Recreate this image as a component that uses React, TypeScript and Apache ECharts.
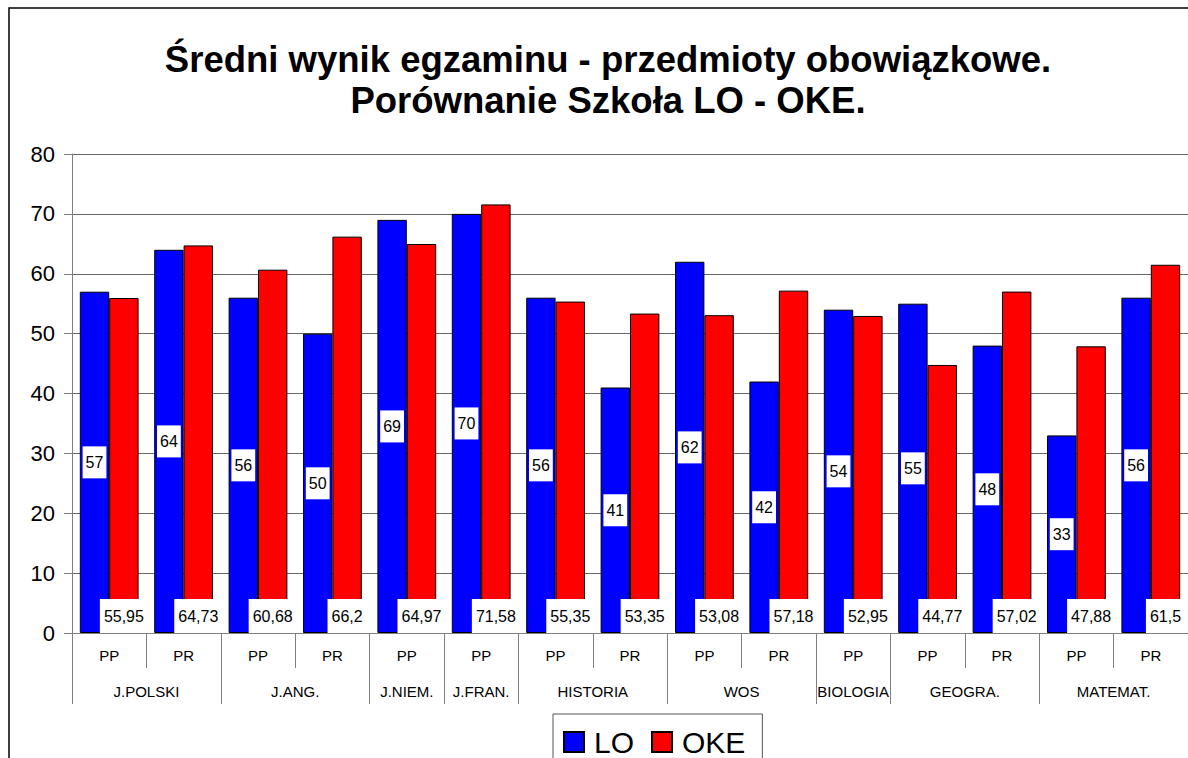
import React, { useEffect, useRef } from "react";
import * as echarts from "echarts";

const subCategories = ["PP", "PR", "PP", "PR", "PP", "PP", "PP", "PR", "PP", "PR", "PP", "PP", "PR", "PP", "PR"];
const groupNames = ["J.POLSKI", "J.ANG.", "J.NIEM.", "J.FRAN.", "HISTORIA", "WOS", "BIOLOGIA", "GEOGRA.", "MATEMAT."];
const groupSizes = [2, 2, 1, 1, 2, 2, 1, 2, 2];
const loValues = [57, 64, 56, 50, 69, 70, 56, 41, 62, 42, 54, 55, 48, 33, 56];
const okeValues = [55.95, 64.73, 60.68, 66.2, 64.97, 71.58, 55.35, 53.35, 53.08, 57.18, 52.95, 44.77, 57.02, 47.88, 61.5];
const yTicks = { min: 0, max: 80, interval: 10 };

const FONT = "'Liberation Sans', Arial, sans-serif";

function buildGroupAxis() {
  const n = subCategories.length * 2 + 1;
  const labels: string[] = new Array(n).fill("");
  const boundaries = new Set<number>([0]);
  let start = 0;
  groupNames.forEach((name, i) => {
    const size = groupSizes[i];
    labels[2 * start + size] = name;
    start += size;
    boundaries.add(2 * start);
  });
  return { labels, boundaries };
}

export default function App() {
  const ref = useRef<HTMLDivElement>(null);
  useEffect(() => {
    if (!ref.current) return;
    const chart = echarts.init(ref.current, undefined, { renderer: "svg" });
    const { labels, boundaries } = buildGroupAxis();
    const fmt = (v: number) => String(v).replace(".", ",");
    chart.setOption({
      animation: false,
      backgroundColor: "#fff",
      textStyle: { fontFamily: FONT },
      title: {
        text: "Średni wynik egzaminu - przedmioty obowiązkowe.\nPorównanie Szkoła LO - OKE.",
        left: 608,
        textAlign: "center",
        top: 39,
        padding: 0,
        textStyle: { fontSize: 36.5, fontWeight: "bold", lineHeight: 41, color: "#000", fontFamily: FONT },
      },
      graphic: [
        {
          type: "rect",
          silent: true,
          z: -10,
          shape: { x: 9, y: 8, width: 1400, height: 1000 },
          style: { fill: "none", stroke: "#000", lineWidth: 1.5 },
        },
      ],
      legend: {
        data: ["LO", "OKE"],
        icon: "rect",
        left: 553,
        top: 714,
        padding: [13, 17, 13, 10],
        itemWidth: 20,
        itemHeight: 20,
        itemGap: 17,
        borderColor: "#555",
        borderWidth: 1,
        backgroundColor: "#fff",
        textStyle: { fontSize: 30, color: "#000", fontFamily: FONT, padding: [0, 0, 0, 5] },
      },
      grid: { left: 72, top: 154, width: 1117, bottom: 125, containLabel: false },
      xAxis: [
        {
          type: "category",
          data: subCategories,
          position: "bottom",
          axisLine: { show: true, lineStyle: { color: "#808080", width: 1 } },
          axisTick: { show: true, length: 35, lineStyle: { color: "#808080" } },
          axisLabel: { margin: 15, fontSize: 15, color: "#000", interval: 0, fontFamily: FONT },
          splitLine: { show: false },
        },
        {
          type: "category",
          data: labels,
          position: "bottom",
          boundaryGap: false,
          axisLine: { show: false },
          axisTick: {
            show: true,
            length: 71,
            interval: (idx: number) => boundaries.has(idx),
            lineStyle: { color: "#808080" },
          },
          axisLabel: {
            margin: 51,
            fontSize: 15,
            color: "#000",
            fontFamily: FONT,
            interval: (_idx: number, v: string) => v !== "",
          },
          splitLine: { show: false },
        },
      ],
      yAxis: {
        type: "value",
        min: yTicks.min,
        max: yTicks.max,
        interval: yTicks.interval,
        axisLine: { show: true, lineStyle: { color: "#808080" } },
        axisTick: { show: true, length: 8, lineStyle: { color: "#808080" } },
        axisLabel: { fontSize: 22, color: "#000", margin: 17, fontFamily: FONT },
        splitLine: { show: true, lineStyle: { color: "#666", width: 1 } },
      },
      series: [
        {
          name: "LO",
          type: "bar",
          xAxisIndex: 0,
          data: loValues,
          barGap: "0%",
          barCategoryGap: "21%",
          itemStyle: { color: "#0000ff", borderColor: "#000", borderWidth: 1 },
          label: {
            show: true,
            position: "inside",
            backgroundColor: "#fff",
            padding: [8, 3],
            fontSize: 16,
            color: "#000",
            fontFamily: FONT,
            formatter: (p: any) => fmt(p.value),
          },
        },
        {
          name: "OKE",
          type: "bar",
          xAxisIndex: 0,
          data: okeValues,
          barGap: "0%",
          barCategoryGap: "21%",
          itemStyle: { color: "#ff0000", borderColor: "#000", borderWidth: 1 },
          label: {
            show: true,
            position: "insideBottom",
            distance: 0,
            backgroundColor: "#fff",
            padding: [9, 4],
            fontSize: 16,
            color: "#000",
            fontFamily: FONT,
            formatter: (p: any) => fmt(p.value),
          },
        },
      ],
    });
    return () => chart.dispose();
  }, []);
  return <div ref={ref} style={{ position: "absolute", left: 0, top: 0, width: 1188, height: 758 }} />;
}
